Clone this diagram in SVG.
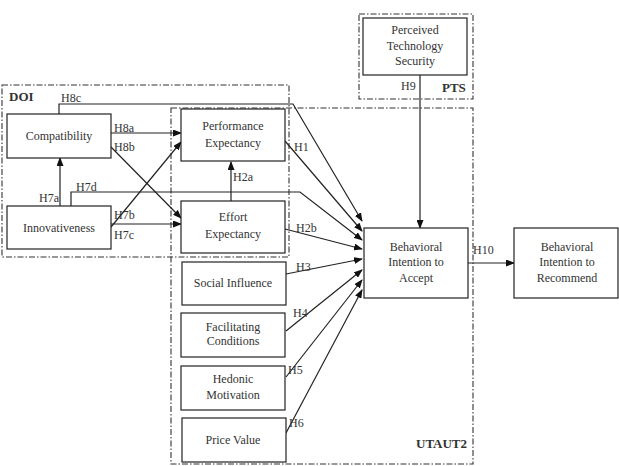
<svg xmlns="http://www.w3.org/2000/svg" width="619" height="466" viewBox="0 0 619 466">
<defs>
<marker id="ah" markerUnits="userSpaceOnUse" markerWidth="9" markerHeight="7" refX="8" refY="3.5" orient="auto">
<path d="M0,0 L9,3.5 L0,7 z" fill="#111"/>
</marker>
<style>
.box{fill:#fff;stroke:#222;stroke-width:1.2}
.grp{fill:none;stroke:#333;stroke-width:1.1;stroke-dasharray:6,2,1.5,2}
.t{font-family:"Liberation Serif","Times New Roman",serif;font-size:12px;fill:#333;text-anchor:middle}
.l{font-family:"Liberation Serif","Times New Roman",serif;font-size:12px;fill:#333}
.b{font-family:"Liberation Serif","Times New Roman",serif;font-size:13px;font-weight:bold;fill:#333}
.c{fill:none;stroke:#222;stroke-width:1.2;marker-end:url(#ah)}
</style>
</defs>
<rect width="619" height="466" fill="#fff"/>
<g id="groups">
<rect class="grp" x="2" y="85" width="287" height="172"/>
<rect class="grp" x="171" y="108" width="302" height="356"/>
<rect class="grp" x="359" y="14" width="114" height="85"/>
<text class="b" x="9" y="101">DOI</text>
<text class="b" x="442" y="92">PTS</text>
<text class="b" x="416" y="448">UTAUT2</text>
</g>
<g id="connectors">
<polyline class="c" points="59,114 59,104 293,104 362,221"/>
<line class="c" x1="111" y1="133" x2="181" y2="133"/>
<line class="c" x1="111" y1="147" x2="181" y2="218"/>
<line class="c" x1="60" y1="206" x2="60" y2="158"/>
<line class="c" x1="111" y1="227" x2="181" y2="142"/>
<line class="c" x1="111" y1="224" x2="181" y2="224"/>
<polyline class="c" points="71,206 71,192 300,192 362,240"/>
<line class="c" x1="231" y1="201" x2="231" y2="162"/>
<line class="c" x1="285" y1="141" x2="362" y2="231"/>
<line class="c" x1="285" y1="229" x2="362" y2="249"/>
<line class="c" x1="286" y1="274" x2="362" y2="259"/>
<line class="c" x1="286" y1="331" x2="362" y2="270"/>
<line class="c" x1="286" y1="377" x2="362" y2="280"/>
<line class="c" x1="286" y1="433" x2="362" y2="290"/>
<line class="c" x1="420" y1="75" x2="420" y2="228"/>
<line class="c" x1="468" y1="263" x2="514" y2="263"/>
<text class="l" x="61" y="102">H8c</text>
<text class="l" x="114" y="132">H8a</text>
<text class="l" x="114" y="151">H8b</text>
<text class="l" x="39" y="202">H7a</text>
<text class="l" x="76" y="191">H7d</text>
<text class="l" x="114" y="219">H7b</text>
<text class="l" x="114" y="239">H7c</text>
<text class="l" x="233" y="181">H2a</text>
<text class="l" x="294" y="151">H1</text>
<text class="l" x="296" y="232">H2b</text>
<text class="l" x="296" y="271">H3</text>
<text class="l" x="293" y="317">H4</text>
<text class="l" x="288" y="374">H5</text>
<text class="l" x="289" y="427">H6</text>
<text class="l" x="401" y="90">H9</text>
<text class="l" x="473" y="254">H10</text>
</g>
<g id="compatibility"><rect class="box" x="7" y="114" width="104" height="44"/><text class="t" x="59" y="140">Compatibility</text></g>
<g id="innovativeness"><rect class="box" x="7" y="206" width="104" height="43"/><text class="t" x="59" y="232">Innovativeness</text></g>
<g id="performance-expectancy"><rect class="box" x="181" y="109" width="104" height="52"/><text class="t" x="233" y="130">Performance</text><text class="t" x="233" y="147">Expectancy</text></g>
<g id="effort-expectancy"><rect class="box" x="181" y="201" width="104" height="52"/><text class="t" x="233" y="221">Effort</text><text class="t" x="233" y="238">Expectancy</text></g>
<g id="social-influence"><rect class="box" x="182" y="262" width="104" height="43"/><text class="t" x="233" y="287">Social Influence</text></g>
<g id="facilitating-conditions"><rect class="box" x="181" y="313" width="104" height="44"/><text class="t" x="233" y="331">Facilitating</text><text class="t" x="233" y="345">Conditions</text></g>
<g id="hedonic-motivation"><rect class="box" x="181" y="366" width="104" height="44"/><text class="t" x="233" y="383">Hedonic</text><text class="t" x="233" y="399">Motivation</text></g>
<g id="price-value"><rect class="box" x="182" y="418" width="104" height="44"/><text class="t" x="233" y="444">Price Value</text></g>
<g id="perceived-technology-security"><rect class="box" x="363" y="18" width="104" height="57"/><text class="t" x="415" y="34">Perceived</text><text class="t" x="415" y="50">Technology</text><text class="t" x="415" y="65">Security</text></g>
<g id="behavioral-intention-accept"><rect class="box" x="364" y="228" width="104" height="70"/><text class="t" x="416" y="251">Behavioral</text><text class="t" x="416" y="266">Intention to</text><text class="t" x="416" y="282">Accept</text></g>
<g id="behavioral-intention-recommend"><rect class="box" x="514" y="228" width="104" height="70"/><text class="t" x="567" y="251">Behavioral</text><text class="t" x="567" y="266">Intention to</text><text class="t" x="567" y="282">Recommend</text></g>
</svg>
